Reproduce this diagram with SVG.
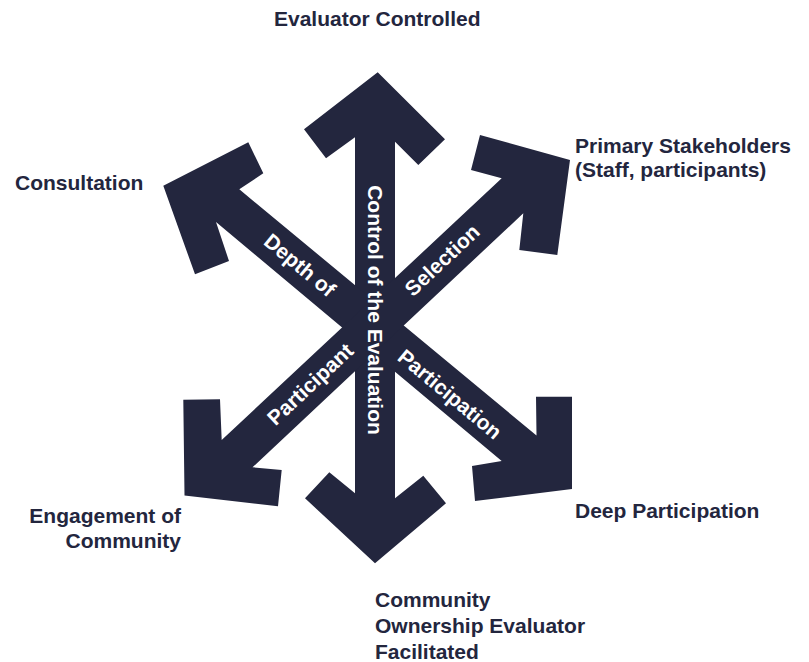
<svg xmlns="http://www.w3.org/2000/svg" width="809" height="662" viewBox="0 0 809 662">
  <style>
    .arrow { fill: #23263e; }
    .lbl { font-family: "Liberation Sans", Arial, sans-serif; font-weight: bold; font-size: 21px; fill: #23263e; }
    .in { font-family: "Liberation Sans", Arial, sans-serif; font-weight: bold; font-size: 21px; fill: #ffffff; text-anchor: middle; dominant-baseline: central; }
  </style>
  <rect width="809" height="662" fill="#ffffff"/>
  <g id="connectors">
    <polygon id="arrow-vertical" class="arrow" points="377.7,72.3 445,139.3 418.3,165 395,141.7 395,498.3 423.3,475.7 446,503.3 375,563.3 305,498.3 329.3,472.3 355,493.3 355,137.3 326,158.3 304,129.3"/>
    <polygon id="arrow-diag-down" class="arrow" points="163.3,185.7 248.3,142.3 263.3,173.3 239.3,189.3 536.5,435.5 536,396.7 572,396.7 572,489 475,501 472,466 501.7,461 216,222 229,261 195,274.3"/>
    <polygon id="arrow-diag-up" class="arrow" points="480,135 570,160 557.3,255 519.3,250 523.3,213.3 252.5,467.3 281.7,470 278,506.3 184.5,495.5 183.3,399.7 220,399.3 221.7,440 501.7,178.3 471,170"/>
  </g>
  <g id="axis-labels">
    <text class="in" transform="translate(375,310) rotate(90)">Control of the Evaluation</text>
    <text class="in" transform="translate(300,265) rotate(39.7)">Depth of</text>
    <text class="in" transform="translate(310,384) rotate(-43.1)">Participant</text>
    <text class="in" transform="translate(442,260) rotate(-43.1)">Selection</text>
    <text class="in" transform="translate(450,394) rotate(39.7)">Participation</text>
  </g>
  <g id="node-evaluator-controlled"><text class="lbl" x="274" y="26">Evaluator Controlled</text></g>
  <g id="node-primary-stakeholders">
    <text class="lbl" x="575" y="153">Primary Stakeholders</text>
    <text class="lbl" x="575" y="177">(Staff, participants)</text>
  </g>
  <g id="node-consultation"><text class="lbl" x="15" y="190">Consultation</text></g>
  <g id="node-deep-participation"><text class="lbl" x="575" y="518">Deep Participation</text></g>
  <g id="node-engagement">
    <text class="lbl" x="181" y="523" text-anchor="end">Engagement of</text>
    <text class="lbl" x="181" y="548" text-anchor="end">Community</text>
  </g>
  <g id="node-community-ownership">
    <text class="lbl" x="375" y="607">Community</text>
    <text class="lbl" x="375" y="633">Ownership Evaluator</text>
    <text class="lbl" x="375" y="659">Facilitated</text>
  </g>
</svg>
